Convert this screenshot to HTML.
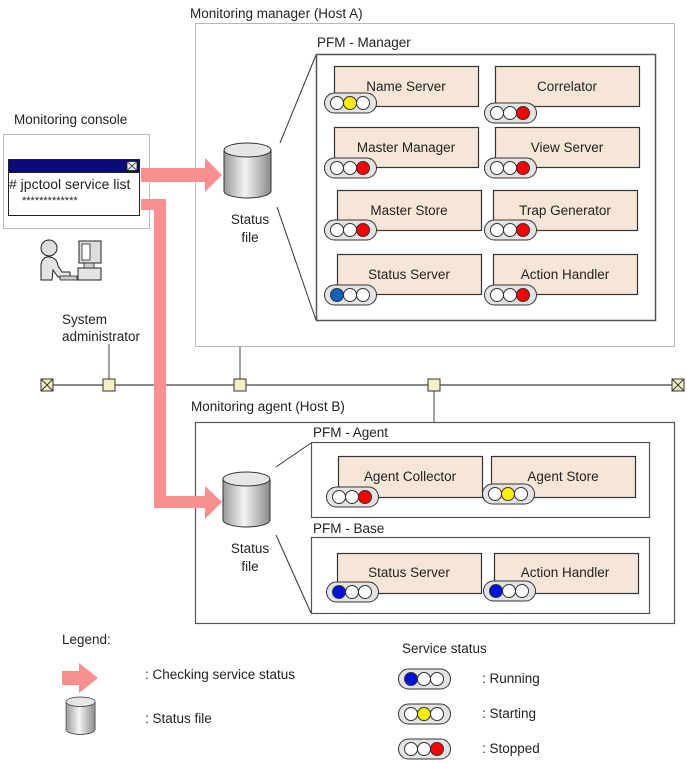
<!DOCTYPE html>
<html><head><meta charset="utf-8"><style>
html,body{margin:0;padding:0;background:#fff;}
svg{display:block;font-family:"Liberation Sans",Arial,sans-serif;}
text{font-size:13.5px;fill:#222;}
</style></head><body>
<svg width="687" height="763" viewBox="0 0 687 763" xmlns="http://www.w3.org/2000/svg">
<defs>
<linearGradient id="cyl" x1="0" x2="1" y1="0" y2="0">
<stop offset="0" stop-color="#9a9a9a"/><stop offset="0.45" stop-color="#f4f4f4"/><stop offset="1" stop-color="#8a8a8a"/>
</linearGradient>
<g id="cylinder">
<path d="M0,7 L0,48 A23.5,7 0 0 0 47,48 L47,7" fill="url(#cyl)" stroke="#333" stroke-width="1"/>
<ellipse cx="23.5" cy="7" rx="23.5" ry="7" fill="#e6e6e6" stroke="#333" stroke-width="1"/>
</g>
</defs>

<!-- Manager host -->
<text x="190" y="18">Monitoring manager (Host A)</text>
<rect x="195.5" y="23.5" width="479" height="323" fill="#fff" stroke="#b8b8b8"/>
<text x="317" y="47">PFM - Manager</text>
<rect x="316.5" y="54.5" width="339" height="266" fill="#fff" stroke="#555" stroke-width="1.5"/>
<line x1="316" y1="55" x2="280" y2="143" stroke="#333"/>
<line x1="277" y1="207" x2="316" y2="320" stroke="#333"/>
<use href="#cylinder" x="224" y="143"/>
<text x="250" y="224" text-anchor="middle">Status</text>
<text x="250" y="242" text-anchor="middle">file</text>

<!-- Console -->
<text x="14" y="124">Monitoring console</text>
<rect x="3.5" y="134.5" width="146" height="94" fill="#fff" stroke="#bbb"/>
<rect x="8.5" y="159.5" width="131" height="56" fill="#fff" stroke="#222"/>
<rect x="8.5" y="159.5" width="131" height="13" fill="#0a0a78" stroke="#222"/>
<rect x="127" y="161.5" width="10" height="9" fill="#eee" stroke="#222" stroke-width="0.8"/>
<path d="M127,161.5 L137,170.5 M137,161.5 L127,170.5" stroke="#222" stroke-width="0.8"/>
<text x="9" y="189" style="font-size:14px">#  jpctool service list</text>
<text x="22" y="204" style="font-size:11px">*************</text>

<!-- person icon -->
<circle cx="49" cy="248" r="8" fill="#ddd" stroke="#222"/>
<path d="M41,280 L41,264 Q43,256 50,257 Q57,258 58,266 L62,272 L70,272 L70,277 L58,277 L53,270 L52,280 Z" fill="#e4e4e4" stroke="#222"/>
<rect x="79" y="241" width="22" height="22" fill="#ddd" stroke="#222"/>
<rect x="82" y="244" width="8" height="16" fill="#fff" stroke="#222" stroke-width="0.8"/>
<rect x="78" y="268" width="23" height="12" fill="#e4e4e4" stroke="#222"/>
<rect x="60" y="276" width="17" height="4" fill="#ccc" stroke="#222" stroke-width="0.8"/>
<rect x="84" y="263" width="10" height="5" fill="#ccc" stroke="#222" stroke-width="0.8"/>

<!-- network -->
<text x="62" y="324">System</text>
<text x="62" y="341">administrator</text>
<line x1="47" y1="385" x2="678" y2="385" stroke="#444" stroke-width="1.3"/>
<line x1="109" y1="344" x2="109" y2="385" stroke="#444"/>
<line x1="240" y1="347" x2="240" y2="385" stroke="#444"/>
<line x1="434" y1="385" x2="434" y2="422" stroke="#444"/>
<g fill="#f3f0c4" stroke="#333">
<rect x="41" y="379" width="12" height="12"/>
<rect x="103" y="379" width="12" height="12"/>
<rect x="234" y="379" width="12" height="12"/>
<rect x="428" y="379" width="12" height="12"/>
<rect x="672" y="379" width="12" height="12"/>
</g>
<path d="M41,379 L53,391 M53,379 L41,391 M672,379 L684,391 M684,379 L672,391" stroke="#333"/>

<!-- Agent host -->
<text x="191" y="411">Monitoring agent (Host B)</text>
<rect x="195.5" y="422.5" width="479" height="201" fill="#fff" stroke="#555" stroke-width="1.2"/>
<text x="313" y="437">PFM - Agent</text>
<rect x="311.5" y="442.5" width="338" height="75" fill="#fff" stroke="#555" stroke-width="1.2"/>
<text x="313" y="533">PFM - Base</text>
<rect x="311.5" y="537.5" width="338" height="76" fill="#fff" stroke="#555" stroke-width="1.2"/>
<line x1="276" y1="467" x2="311" y2="443" stroke="#333"/>
<line x1="276" y1="535" x2="311" y2="613" stroke="#333"/>
<use href="#cylinder" x="223" y="472"/>
<text x="250" y="553" text-anchor="middle">Status</text>
<text x="250" y="571" text-anchor="middle">file</text>

<!-- arrows -->
<g fill="#f98f8f">
<rect x="141" y="168" width="65" height="14"/>
<polygon points="205,158 222,175 205,192"/>
<path d="M141,199 L166,199 L166,496 L206,496 L206,508 L154,508 L154,210 L141,210 Z"/>
<polygon points="205,486 222,502 205,519"/>
<rect x="62" y="671" width="18" height="14"/>
<polygon points="79,663 98,678 79,693"/>
</g>

<!-- service boxes -->
<g fill="#f6e6d7" stroke="#333" stroke-width="1.2">
<rect x="334.5" y="66.5" width="144" height="40"/>
<rect x="495.5" y="66.5" width="144" height="40"/>
<rect x="334.5" y="127.5" width="144" height="40"/>
<rect x="495.5" y="127.5" width="144" height="40"/>
<rect x="337.5" y="190.5" width="144" height="40"/>
<rect x="493.5" y="190.5" width="144" height="40"/>
<rect x="337.5" y="254.5" width="144" height="40"/>
<rect x="493.5" y="254.5" width="144" height="40"/>
<rect x="338.5" y="456.5" width="144" height="41"/>
<rect x="491.5" y="456.5" width="144" height="41"/>
<rect x="337.5" y="553.5" width="144" height="40"/>
<rect x="494.5" y="553.5" width="144" height="40"/>
</g>
<g text-anchor="middle">
<text x="406" y="91">Name Server</text>
<text x="567" y="91">Correlator</text>
<text x="406" y="152">Master Manager</text>
<text x="567" y="152">View Server</text>
<text x="409" y="215">Master Store</text>
<text x="565" y="215">Trap Generator</text>
<text x="409" y="279">Status Server</text>
<text x="565" y="279">Action Handler</text>
<text x="410" y="481">Agent Collector</text>
<text x="563" y="481">Agent Store</text>
<text x="409" y="577">Status Server</text>
<text x="565" y="577">Action Handler</text>
</g>

<!-- lights -->
<g id="lights" stroke="#333"></g>

<!-- legend -->
<text x="62" y="644">Legend:</text>
<text x="145" y="679">: Checking service status</text>
<use href="#cylinder" x="66" y="697" transform="translate(66,697) scale(0.62,0.68) translate(-66,-697)"/>
<text x="145" y="723">: Status file</text>
<text x="402" y="653">Service status</text>
<text x="482" y="683">: Running</text>
<text x="482" y="718">: Starting</text>
<text x="482" y="753">: Stopped</text>
</svg>
<script>
var L=[[324,103,'#ff0','y'],[484,113,'r'],[324,168,'r'],[484,168,'r'],[324,230,'r'],[484,230,'r'],[324,295,'b2'],[484,295,'r'],
[326,497,'r'],[482,494,'y'],[326,592,'b'],[483,591,'b'],[398,679,'b'],[398,714,'y'],[398,749,'r']];
var s='';
L.forEach(function(a){var x=a[0],y=a[1],c=a[a.length-1];
s+='<rect x="'+(x+0.5)+'" y="'+(y-10)+'" width="52" height="20" rx="10" fill="#e4e4e4" stroke="#333"/>';
var cols=['#fff','#fff','#fff'];
if(c=='y')cols[1]='#ffee00';if(c=='r')cols[2]='#f00';if(c=='b')cols[0]='#0010e0';if(c=='b2')cols[0]='#1060c0';
for(var i=0;i<3;i++)s+='<circle cx="'+(x+13+i*13)+'" cy="'+y+'" r="6.5" fill="'+cols[i]+'" stroke="#333"/>';});
document.getElementById('lights').innerHTML=s;
</script>
</body></html>
